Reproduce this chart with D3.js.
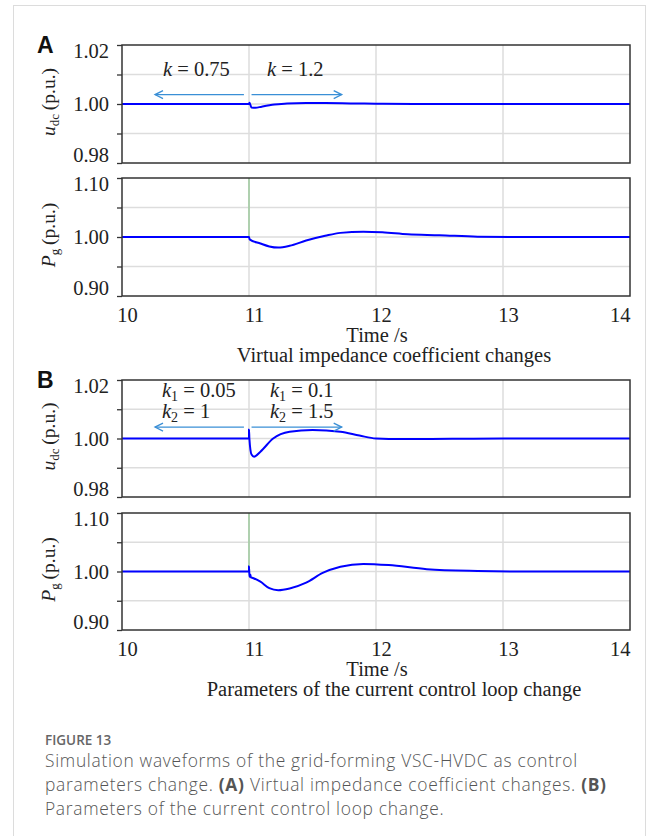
<!DOCTYPE html>
<html>
<head>
<meta charset="utf-8">
<script src="https://cdnjs.cloudflare.com/ajax/libs/d3/7.8.5/d3.min.js"></script>
<style>
  body { margin: 0; background: #fff; }
  svg { display: block; }
</style>
</head>
<body>
<div id="chart"></div>
<script>
// time values (s) and waveforms
const xTicks = [10, 11, 12, 13, 14];

const tUdcA = [10, 11, 11.004, 11.02, 11.05, 11.1, 11.2, 11.3, 11.45, 11.6, 11.8, 12.0, 12.3, 13, 14];
const vUdcA = [1.0, 1.0, 1.0004, 0.9988, 0.9987, 0.9991, 0.9998, 1.0002, 1.0003, 1.0003, 1.0002, 1.0001, 1.0, 1.0, 1.0];

const tPgA = [10, 11, 11.005, 11.09, 11.16, 11.23, 11.32, 11.45, 11.6, 11.72, 11.9, 12.05, 12.25, 12.5, 12.8, 13.2, 14];
const vPgA = [1.0, 1.0, 0.996, 0.989, 0.984, 0.982, 0.985, 0.994, 1.002, 1.007, 1.009, 1.008, 1.0045, 1.003, 1.0005, 1.0, 1.0];

const tUdcB = [10, 11, 11.0, 11.003, 11.02, 11.04, 11.09, 11.19, 11.32, 11.5, 11.72, 11.87, 12.0, 12.2, 12.6, 13, 14];
const vUdcB = [1.0, 1.0, 1.003, 1.0, 0.9945, 0.9938, 0.9955, 1.0, 1.0023, 1.0029, 1.0023, 1.001, 1.0, 0.9998, 0.9999, 1.0, 1.0];

const tPgB = [10, 11, 11.0, 11.004, 11.01, 11.015, 11.03, 11.09, 11.16, 11.23, 11.32, 11.45, 11.58, 11.72, 11.9, 12.1, 12.4, 12.8, 13.2, 14];
const vPgB = [1.0, 1.0, 1.0085, 0.991, 0.995, 0.99, 0.989, 0.9826, 0.9715, 0.968, 0.971, 0.981, 0.9975, 1.008, 1.013, 1.011, 1.004, 1.001, 1.0, 1.0];

// step instant marker (green trace) in the power plots
const stepT = 11;

// annotation arrows [from, to] in seconds
const arrowLeft = [10.96, 10.26];
const arrowRight = [11.02, 11.73];

const subtitleA = "Virtual impedance coefficient changes";
const subtitleB = "Parameters of the current control loop change";

const W = 656, H = 836;
const svg = d3.select("#chart").append("svg").attr("width", W).attr("height", H);

// outer frame
svg.append("rect").attr("x", 13.5).attr("y", 5.5).attr("width", 632).attr("height", 900)
  .attr("fill", "none").attr("stroke", "#dcdcdc").attr("stroke-width", 1);

const x = d3.scaleLinear().domain([10, 14]).range([122, 630]);
const serif = "'Liberation Serif', 'Times New Roman', serif";
const fs = 20.5;
const blue = "#0000ff";
const arrowBlue = "#3a8fd6";

function plot(top, bottom, yDom, yTicks, yLabels, tArr, vArr, kind, showX) {
  const y = d3.scaleLinear().domain(yDom).range([bottom, top]);
  const g = svg.append("g");

  // grid
  g.selectAll(".gx").data(xTicks.slice(1, -1)).enter().append("line")
    .attr("x1", d => x(d)).attr("x2", d => x(d)).attr("y1", top).attr("y2", bottom)
    .attr("stroke", "#dddddd").attr("stroke-width", 1.5);
  g.selectAll(".gy").data(yTicks.slice(1, -1)).enter().append("line")
    .attr("x1", x(10)).attr("x2", x(14)).attr("y1", d => y(d)).attr("y2", d => y(d))
    .attr("stroke", "#dddddd").attr("stroke-width", 1.5);

  // y axis with outward ticks
  const yAxis = d3.axisLeft(y).tickValues(yTicks).tickSize(5)
    .tickFormat(d => yLabels.includes(d) ? d.toFixed(2) : "");
  const ya = g.append("g").attr("transform", "translate(" + x(10) + ",0)").call(yAxis);
  ya.select(".domain").remove();
  ya.selectAll("line").attr("stroke", "#333").attr("stroke-width", 1.3);
  ya.selectAll("text").attr("font-family", serif).attr("font-size", fs).attr("fill", "#222")
    .attr("x", -13)
    .attr("dy", d => d === yDom[0] ? "-0.05em" : d === yDom[1] ? "0.6em" : "0.34em");

  if (showX) {
    const xAxis = d3.axisBottom(x).tickValues(xTicks).tickSize(0).tickFormat(d3.format("d"));
    const xa = g.append("g").attr("transform", "translate(0," + bottom + ")").call(xAxis);
    xa.select(".domain").remove();
    xa.selectAll("text").attr("font-family", serif).attr("font-size", fs).attr("fill", "#222")
      .attr("y", 26).attr("dy", 0)
      .attr("dx", d => d === 14 ? 0 : 5)
      .attr("text-anchor", d => d === 14 ? "end" : "middle");
  }

  // step trace (green) in power plots
  if (kind === "pg") {
    g.append("line").attr("x1", x(stepT)).attr("x2", x(stepT))
      .attr("y1", y(yDom[1])).attr("y2", y(1.0))
      .attr("stroke", "#9cc89c").attr("stroke-width", 1.5);
  }

  const line = d3.line().x((d, i) => x(tArr[i])).y(d => y(d)).curve(d3.curveMonotoneX);
  g.append("path").datum(vArr).attr("d", line)
    .attr("fill", "none").attr("stroke", blue).attr("stroke-width", 2);

  // frame
  g.append("rect").attr("x", x(10)).attr("y", top).attr("width", x(14) - x(10)).attr("height", bottom - top)
    .attr("fill", "none").attr("stroke", "#333").attr("stroke-width", 1.5);

  // y label
  const cy = (top + bottom) / 2;
  const lab = g.append("text").attr("transform", "translate(55," + (cy - 2) + ") rotate(-90)")
    .attr("text-anchor", "middle").attr("font-family", serif).attr("font-size", 19.5).attr("fill", "#222");
  if (kind === "udc") {
    lab.append("tspan").attr("font-style", "italic").text("u");
    lab.append("tspan").attr("font-size", 13).attr("dy", 4).text("dc");
    lab.append("tspan").attr("dy", -4).text("\u2009(p.u.)");
  } else {
    lab.append("tspan").attr("font-style", "italic").text("P");
    lab.append("tspan").attr("font-size", 13).attr("dy", 4).text("g");
    lab.append("tspan").attr("dy", -4).text("\u2009(p.u.)");
  }
  return y;
}

function arrows(y, val) {
  const yy = y(val);
  [arrowLeft, arrowRight].forEach(a => {
    const x1 = x(a[0]), x2 = x(a[1]);
    const dir = Math.sign(x2 - x1);
    svg.append("line").attr("x1", x1).attr("x2", x2).attr("y1", yy).attr("y2", yy)
      .attr("stroke", arrowBlue).attr("stroke-width", 1.3);
    svg.append("path")
      .attr("d", "M" + (x2 - dir * 8) + "," + (yy - 4) + "L" + x2 + "," + yy + "L" + (x2 - dir * 8) + "," + (yy + 4))
      .attr("fill", "none").attr("stroke", arrowBlue).attr("stroke-width", 1.3);
  });
}

function kText(xp, yp, parts) {
  const t = svg.append("text").attr("x", xp).attr("y", yp)
    .attr("font-family", serif).attr("font-size", fs).attr("fill", "#222");
  parts.forEach(p => {
    const s = t.append("tspan").text(p[0]);
    if (p[1] === "i") s.attr("font-style", "italic");
    if (p[1] === "sub") s.attr("font-size", 14).attr("dy", 4);
    if (p[1] === "up") s.attr("dy", -4);
  });
}

function panelLetter(txt, yp) {
  svg.append("text").attr("x", 37).attr("y", yp).text(txt)
    .attr("font-family", "'Liberation Sans', Arial, sans-serif").attr("font-weight", "bold")
    .attr("font-size", 23).attr("fill", "#111");
}

function xTitles(bottom, sub) {
  svg.append("text").attr("x", 377).attr("y", bottom + 46).attr("text-anchor", "middle")
    .attr("font-family", serif).attr("font-size", fs).attr("fill", "#222").text("Time /s");
  svg.append("text").attr("x", 394).attr("y", bottom + 66).attr("text-anchor", "middle")
    .attr("font-family", serif).attr("font-size", fs).attr("fill", "#222").text(sub);
}

// Panel A
panelLetter("A", 53);
const yA1 = plot(45, 163, [0.98, 1.02], [0.98, 0.99, 1.0, 1.01, 1.02], [0.98, 1.0, 1.02], tUdcA, vUdcA, "udc", false);
plot(178, 296, [0.90, 1.10], [0.90, 0.95, 1.0, 1.05, 1.10], [0.90, 1.0, 1.10], tPgA, vPgA, "pg", true);
arrows(yA1, 1.0032);
kText(163, 76, [["k", "i"], [" = 0.75", ""]]);
kText(267, 76, [["k", "i"], [" = 1.2", ""]]);
xTitles(296, subtitleA);

// Panel B
panelLetter("B", 388);
const yB1 = plot(380, 497, [0.98, 1.02], [0.98, 0.99, 1.0, 1.01, 1.02], [0.98, 1.0, 1.02], tUdcB, vUdcB, "udc", false);
plot(513, 630, [0.90, 1.10], [0.90, 0.95, 1.0, 1.05, 1.10], [0.90, 1.0, 1.10], tPgB, vPgB, "pg", true);
arrows(yB1, 1.0039);
kText(162, 397, [["k", "i"], ["1", "sub"], [" = 0.05", "up"]]);
kText(162, 418, [["k", "i"], ["2", "sub"], [" = 1", "up"]]);
kText(270, 397, [["k", "i"], ["1", "sub"], [" = 0.1", "up"]]);
kText(270, 418, [["k", "i"], ["2", "sub"], [" = 1.5", "up"]]);
xTitles(630, subtitleB);

// caption
const cap = svg.append("g").attr("font-family", "'Open Sans', 'Noto Sans', sans-serif");
cap.append("text").attr("x", 45).attr("y", 745).attr("font-size", 13.5).attr("font-weight", 600)
  .attr("fill", "#666").text("FIGURE 13");
const capLines = [
  [["Simulation waveforms of the grid-forming VSC-HVDC as control", false]],
  [["parameters change. ", false], ["(A)", true], [" Virtual impedance coefficient changes. ", false], ["(B)", true]],
  [["Parameters of the current control loop change.", false]]
];
capLines.forEach((ln, i) => {
  const t = cap.append("text").attr("x", 45).attr("y", 767 + i * 24).attr("font-size", 17.4).attr("fill", "#555")
    .attr("font-weight", 300).attr("letter-spacing", 0.7);
  ln.forEach(p => {
    const s = t.append("tspan").text(p[0]);
    if (p[1]) s.attr("font-weight", "bold");
  });
});
</script>
</body>
</html>
